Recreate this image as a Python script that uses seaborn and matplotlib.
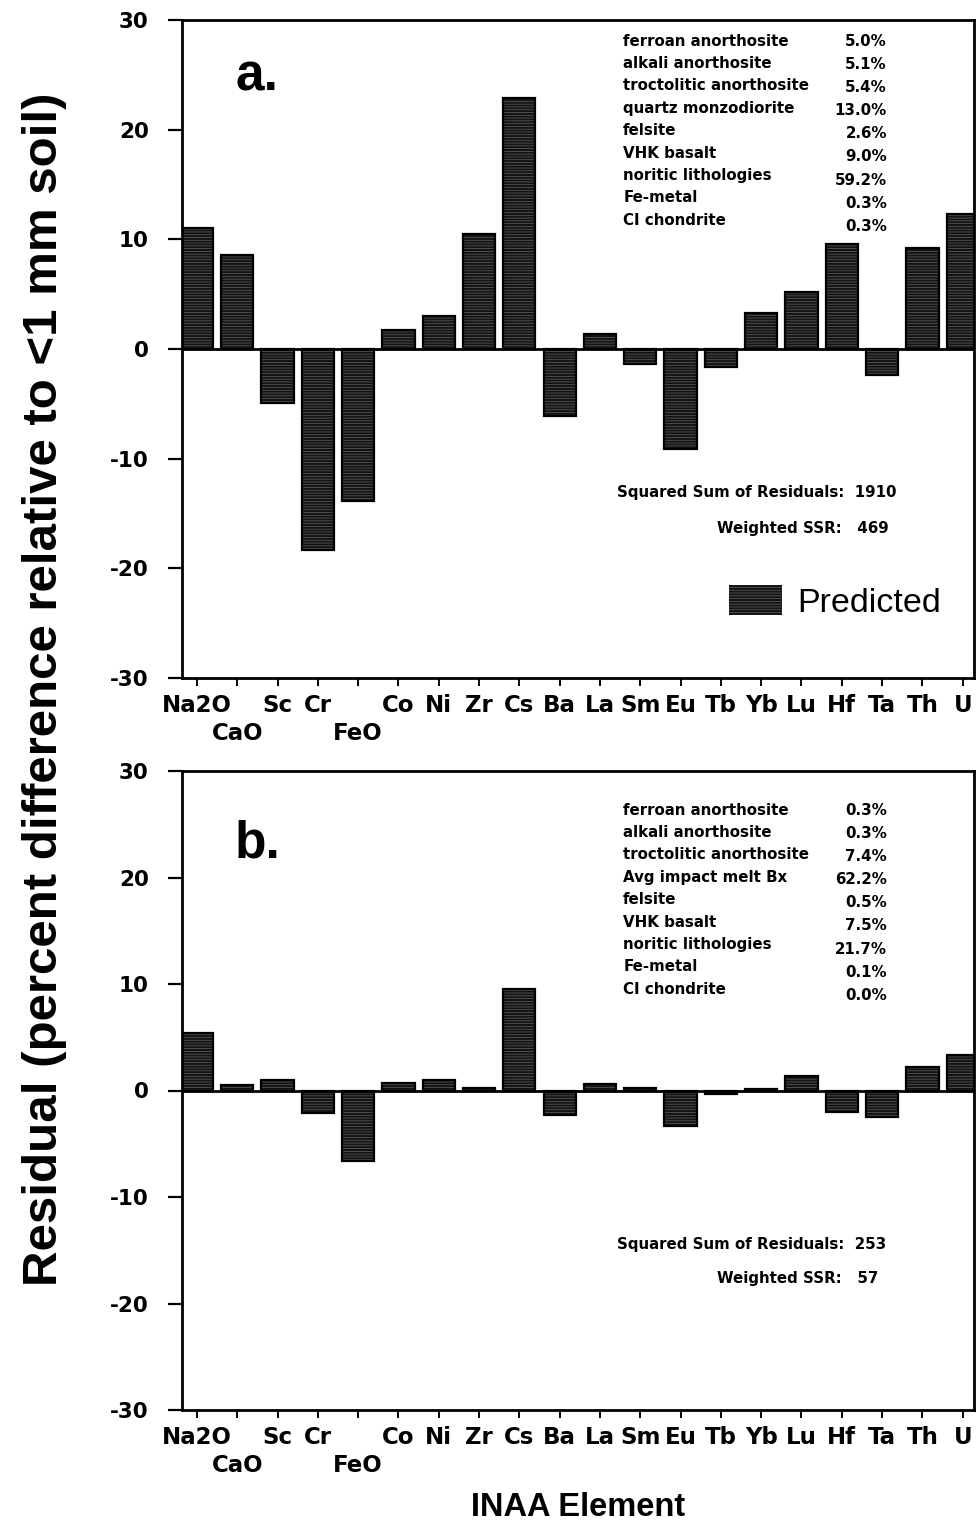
import matplotlib
matplotlib.use("Agg")
import matplotlib.pyplot as plt
import seaborn as sns
import pandas as pd

# ---------------- data ----------------
elements = ["Na2O", "CaO", "Sc", "Cr", "FeO", "Co", "Ni", "Zr", "Cs", "Ba",
            "La", "Sm", "Eu", "Tb", "Yb", "Lu", "Hf", "Ta", "Th", "U"]
# elements whose labels sit on the lower (second) label row
lower_row = ["CaO", "FeO"]
resid_a = [11.0, 8.6, -4.9, -18.3, -13.9, 1.7, 3.0, 10.5, 22.9, -6.1,
           1.4, -1.35, -9.1, -1.65, 3.3, 5.2, 9.6, -2.35, 9.2, 12.3]
resid_b = [5.4, 0.5, 0.95, -2.1, -6.65, 0.7, 0.95, 0.2, 9.5, -2.3,
           0.6, 0.25, -3.3, -0.3, 0.15, 1.35, -2.05, -2.45, 2.2, 3.35]

comp_names_a = ["ferroan anorthosite", "alkali anorthosite", "troctolitic anorthosite",
                "quartz monzodiorite", "felsite", "VHK basalt", "noritic lithologies",
                "Fe-metal", "CI chondrite"]
comp_vals_a = ["5.0%", "5.1%", "5.4%", "13.0%", "2.6%", "9.0%", "59.2%", "0.3%", "0.3%"]
comp_names_b = ["ferroan anorthosite", "alkali anorthosite", "troctolitic anorthosite",
                "Avg impact melt Bx", "felsite", "VHK basalt", "noritic lithologies",
                "Fe-metal", "CI chondrite"]
comp_vals_b = ["0.3%", "0.3%", "7.4%", "62.2%", "0.5%", "7.5%", "21.7%", "0.1%", "0.0%"]
ssr_a, wssr_a = "1910", "469"
ssr_b, wssr_b = "253", "57"
y_ticks = [-30, -20, -10, 0, 10, 20, 30]

# ---------------- style ----------------
sns.set_theme(style="ticks")
plt.rcParams["font.family"] = ["Liberation Sans", "DejaVu Sans"]
plt.rcParams["axes.unicode_minus"] = False
plt.rcParams["hatch.linewidth"] = 0.5
plt.rcParams["text.color"] = "black"
plt.rcParams["axes.labelcolor"] = "black"
plt.rcParams["xtick.color"] = "black"
plt.rcParams["ytick.color"] = "black"

W, H = 976, 1524
fig = plt.figure(figsize=(W / 100, H / 100), dpi=100)
ax_a = fig.add_axes([182 / W, 1 - 678 / H, (974 - 182) / W, 658 / H])
ax_b = fig.add_axes([182 / W, 1 - 1410 / H, (974 - 182) / W, 639 / H])

BAR = "#141414"
HATCH = (1, 1, 1, 0.32)
TFONT = dict(fontsize=10.8, fontfamily="DejaVu Sans", fontweight="bold", color="black")


def draw_panel(ax, values, names, vals, ssr, wssr, letter, legend, letter_y,
               table_top, row_step, ssr_y, wssr_y):
    df = pd.DataFrame({"element": elements, "resid": values})
    sns.barplot(data=df, x="element", y="resid", ax=ax, color=BAR, width=0.8,
                saturation=1, errorbar=None, edgecolor=HATCH,
                linewidth=0, hatch="------", label="Predicted" if legend else None)
    sns.barplot(data=df, x="element", y="resid", ax=ax, color="black", width=0.8,
                fill=False, errorbar=None, linewidth=1.6)
    ax.axhline(0, color="black", lw=2.0, zorder=3)
    ax.set_xlim(-0.37, 19.28)
    ax.set_ylim(-30, 30)
    ax.set_yticks(y_ticks)
    ax.set_yticklabels([str(t) for t in y_ticks], fontfamily="DejaVu Sans",
                       fontweight="bold", fontsize=15.5)
    # upper label row on major ticks, lower row on minor ticks
    ax.xaxis.remove_overlapping_locs = False
    ax.set_xticks(range(len(elements)))
    ax.set_xticklabels(["" if e in lower_row else e for e in elements],
                       fontfamily="DejaVu Sans", fontweight="bold", fontsize=16.5)
    low_pos = [elements.index(e) for e in lower_row]
    ax.set_xticks(low_pos, minor=True)
    ax.set_xticklabels(lower_row, minor=True, fontfamily="DejaVu Sans",
                       fontweight="bold", fontsize=16.5)
    ax.tick_params(axis="y", which="major", direction="out", length=10, width=1.6, pad=14)
    ax.tick_params(axis="x", which="major", direction="out", length=5.5, width=1.4, pad=6)
    ax.tick_params(axis="x", which="minor", direction="out", length=0, pad=31.5)
    ax.tick_params(axis="y", which="minor", left=False)
    ax.set_xlabel("")
    ax.set_ylabel("")
    for s in ax.spines.values():
        s.set_visible(True)
        s.set_linewidth(2.0)
        s.set_color("black")
    ax.text(0.067, letter_y, letter, transform=ax.transAxes, fontsize=37,
            fontweight="bold", va="baseline", ha="left")
    for i, (n, v) in enumerate(zip(names, vals)):
        y = table_top - i * row_step
        ax.text(0.557, y, n, transform=ax.transAxes, va="center", ha="left", **TFONT)
        ax.text(0.890, y - 0.0012 * i, v, transform=ax.transAxes, va="center",
                ha="right", **TFONT)
    ax.text(0.549, ssr_y, f"Squared Sum of Residuals:  {ssr}", transform=ax.transAxes,
            va="center", ha="left", **TFONT)
    ax.text(0.675, wssr_y, f"Weighted SSR:   {wssr}", transform=ax.transAxes,
            va="center", ha="left", **TFONT)
    return ax


draw_panel(ax_a, resid_a, comp_names_a, comp_vals_a, ssr_a, wssr_a, "a.", True,
           0.893, (678 - 41) / 658, 22.4 / 658, (678 - 493) / 658, (678 - 528) / 658)
draw_panel(ax_b, resid_b, comp_names_b, comp_vals_b, ssr_b, wssr_b, "b.", False,
           0.864, (1410 - 810) / 639, 22.4 / 639, (1410 - 1244) / 639, (1410 - 1278) / 639)

leg = ax_a.legend(loc="center", bbox_to_anchor=(0.825, 0.1155), frameon=False,
                  fontsize=24.5, handlelength=1.55, handleheight=0.95, handletextpad=0.45)
for h in leg.legend_handles:
    h.set_edgecolor(HATCH)

fig.text(0.046, 0.548, "Residual (percent difference relative to <1 mm soil)",
         rotation=90, fontsize=35.5, fontweight="bold", ha="center", va="center")
fig.text(578 / W, 1 - 1508 / H, "INAA Element", fontsize=23.5, fontweight="bold",
         ha="center", va="center")

fig.savefig("out.png", dpi=100)
